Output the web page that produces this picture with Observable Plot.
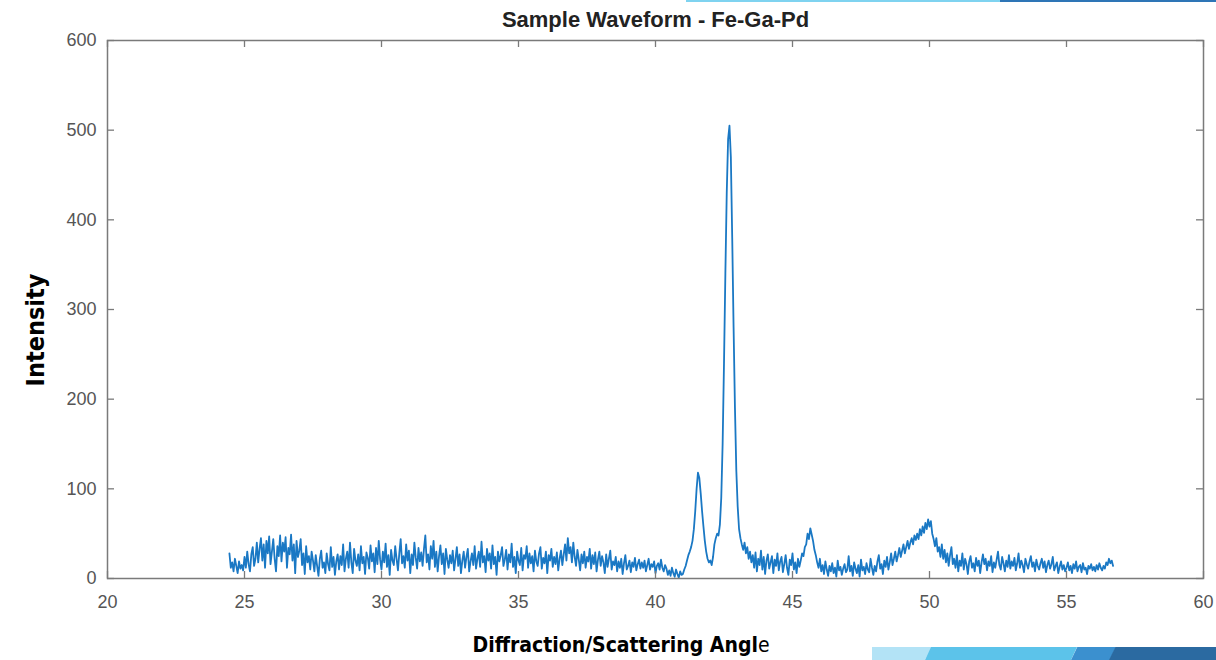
<!DOCTYPE html>
<html><head><meta charset="utf-8">
<script src="https://cdn.jsdelivr.net/npm/d3@7"></script>
<script src="https://cdn.jsdelivr.net/npm/@observablehq/plot@0.6"></script>
<style>
body{margin:0;background:#fff;}
#wrap{position:relative;width:1216px;height:660px;overflow:hidden;background:#fff;}
#wrap svg{position:absolute;left:0;top:0;}
.lab{position:absolute;font-family:"DejaVu Sans Condensed","DejaVu Sans",sans-serif;font-stretch:condensed;font-weight:bold;color:#000;white-space:nowrap;}
#ylab{left:35px;top:330px;font-size:25px;transform:translate(-50%,-50%) rotate(-90deg);}
#xlab{left:621px;top:645px;font-size:21px;transform:translate(-50%,-50%);}
#xlab span{font-weight:normal;}
.deco{position:absolute;}
</style></head><body>
<div id="wrap">
  <div class="deco" style="left:686px;top:0;width:314px;height:2px;background:#7fd3f0"></div>
  <div class="deco" style="left:1000px;top:0;width:216px;height:2px;background:#2e75b6"></div>
  <div class="deco" style="left:872px;top:647px;width:60px;height:13px;background:#b3e3f6;clip-path:polygon(0 0,100% 0,88% 100%,0 100%)"></div>
  <div class="deco" style="left:925px;top:647px;width:152px;height:13px;background:#5cc3ea;clip-path:polygon(4% 0,100% 0,96% 100%,0 100%)"></div>
  <div class="deco" style="left:1071px;top:647px;width:45px;height:13px;background:#3b90cf;clip-path:polygon(14% 0,100% 0,86% 100%,0 100%)"></div>
  <div class="deco" style="left:1109px;top:647px;width:107px;height:13px;background:#2b6aa1;clip-path:polygon(6% 0,100% 0,100% 100%,0 100%)"></div>
  <div id="ylab" class="lab">Intensity</div>
  <div id="xlab" class="lab">Diffraction/Scattering Angl<span>e</span></div>
</div>
<script>
// Sampled at 0.05° steps; each row starts at rowStarts[r]
const rowStarts = [24.45, 25.0, 25.5, 26.5, 27.5, 28.5, 29.5, 30.5, 31.5, 32.5, 33.5, 34.5, 35.5, 36.5, 37.5, 38.5, 39.5, 40.5,
  41.0, 43.0, 43.5, 44.5, 45.3, 45.9, 47.0, 48.0, 48.5, 49.5, 50.25, 51.0, 52.0, 53.0, 54.0, 55.0, 56.0];
const rowValues = [
  [28, 12, 18, 8, 22, 14, 6, 19, 11, 15, 9],
  [24, 12, 30, 16, 8, 27, 35, 14, 22, 40],
  [18, 33, 45, 20, 38, 12, 42, 28, 47, 16, 30, 44, 22, 8, 36, 25, 48, 19, 40, 30],
  [46, 12, 34, 27, 49, 20, 38, 6, 42, 24, 31, 44, 15, 28, 5, 36, 18, 25, 10, 30],
  [20, 8, 26, 14, 3, 22, 31, 12, 18, 6, 28, 16, 9, 35, 13, 24, 4, 19, 27, 10],
  [25, 15, 38, 8, 22, 30, 12, 40, 18, 6, 33, 20, 14, 27, 9, 36, 17, 24, 5, 29],
  [23, 11, 37, 19, 28, 7, 34, 16, 42, 21, 10, 30, 18, 39, 13, 26, 4, 32, 20, 15],
  [36, 22, 9, 28, 44, 17, 25, 12, 38, 20, 31, 6, 27, 15, 40, 23, 11, 34, 19, 29],
  [14, 33, 48, 18, 27, 10, 36, 22, 42, 13, 30, 8, 25, 37, 16, 28, 5, 33, 21, 12],
  [26, 17, 31, 9, 22, 35, 14, 27, 6, 20, 30, 12, 24, 33, 8, 19, 28, 15, 36, 11],
  [22, 30, 13, 41, 18, 25, 7, 33, 20, 28, 11, 37, 16, 24, 4, 30, 19, 26, 35, 14],
  [21, 32, 10, 27, 18, 39, 13, 24, 6, 30, 20, 15, 34, 9, 26, 22, 36, 12, 28, 17],
  [25, 8, 31, 19, 14, 28, 35, 11, 23, 17, 30, 6, 26, 20, 33, 13, 24, 16, 29, 9],
  [22, 31, 15, 27, 38, 20, 45, 28, 35, 18, 40, 24, 14, 32, 21, 9, 27, 17, 30, 12],
  [24, 19, 33, 11, 26, 16, 29, 8, 21, 30, 14, 25, 18, 6, 27, 13, 22, 31, 10, 19],
  [15, 24, 8, 19, 12, 22, 5, 17, 26, 10, 14, 20, 7, 18, 13, 23, 9, 16, 21, 11],
  [18, 12, 20, 8, 15, 22, 10, 16, 13, 19, 6, 14, 17, 10, 21, 12, 8, 15, 11, 4],
  [9, 3, 12, 6, 2, 10, 5, 1, 8, 4],
  [5, 10, 14, 20, 26, 30, 35, 42, 55, 75,
   100, 118, 112, 95, 75, 58, 42, 30, 22, 18,
   20, 15, 24, 38, 45, 50, 48, 60, 90, 150,
   240, 340, 430, 490, 505, 470, 380, 280, 190, 120],
  [80, 55, 45, 38, 32, 40, 28, 35, 22, 30],
  [18, 26, 12, 29, 8, 22, 15, 31, 10, 24, 5, 20, 27, 11, 18, 25, 6, 21, 14, 28],
  [9, 19, 24, 7, 16, 26, 12, 4, 21, 15, 28, 10, 18, 6, 22, 13],
  [20, 28, 25, 35, 38, 50, 44, 56, 49, 42, 32, 26],
  [18, 12, 22, 8, 15, 5, 19, 10, 3, 14, 8, 17, 6, 12, 2, 20, 9, 13, 4, 11, 16, 7],
  [10, 25, 8, 14, 3, 18, 11, 6, 15, 2, 21, 9, 13, 5, 17, 10, 7, 22, 12, 4],
  [14, 8, 19, 26, 11, 16, 5, 20, 13, 24],
  [10, 18, 28, 15, 22, 30, 19, 26, 34, 24, 31, 38, 28, 35, 42, 33, 40, 45, 38, 48],
  [43, 50, 44, 55, 48, 58, 51, 62, 55, 66, 58, 64, 50, 44, 36],
  [45, 30, 35, 24, 38, 22, 32, 18, 28, 14, 26, 35, 16, 22, 12],
  [26, 8, 20, 14, 28, 10, 22, 16, 5, 19, 25, 12, 17, 8, 23, 14, 20, 6, 18, 27],
  [16, 22, 9, 19, 14, 25, 7, 18, 12, 21, 30, 15, 10, 24, 17, 8, 20, 13, 26, 11],
  [19, 14, 23, 9, 17, 28, 12, 20, 15, 7, 22, 16, 11, 19, 25, 13, 18, 8, 21, 14],
  [10, 17, 22, 12, 19, 7, 15, 20, 11, 16, 24, 9, 14, 18, 6, 13, 19, 10, 15, 8],
  [12, 18, 9, 14, 6, 16, 11, 19, 8, 13, 15, 7, 17, 10, 12, 5, 14, 11, 16, 9],
  [13, 8, 15, 10, 17, 12, 9, 14, 11, 18, 15, 22, 17, 20, 14]
];
const sampleStep = 0.05;
const xTicks = [20, 25, 30, 35, 40, 45, 50, 55, 60];
const yTicks = [0, 100, 200, 300, 400, 500, 600];
const titleText = "Sample Waveform - Fe-Ga-Pd";

const data = rowStarts.flatMap((s, r) => rowValues[r].map((v, i) => ({angle: +(s + i * sampleStep).toFixed(2), intensity: v})));

const W = 1216, H = 660, mt = 40, mb = 82, ml = 107, mr = 13;
const pw = W - ml - mr, ph = H - mt - mb;
const axisGrey = "#7a7a7a";
const chart = Plot.plot({
  width: W, height: H,
  marginTop: mt, marginBottom: mb, marginLeft: ml, marginRight: mr,
  style: {fontFamily: "'Liberation Sans', Arial, sans-serif", background: "transparent", overflow: "visible"},
  x: {domain: [20, 60]},
  y: {domain: [0, 600]},
  marks: [
    Plot.line(data, {x: "angle", y: "intensity", stroke: "#1a78c4", strokeWidth: 1.8, strokeLinejoin: "round"}),
    Plot.frame({stroke: axisGrey, strokeWidth: 1.5}),
    Plot.tickX(xTicks, {x: d => d, insetTop: ph - 7, stroke: axisGrey, strokeWidth: 1.3}),
    Plot.tickX(xTicks, {x: d => d, insetBottom: ph - 7, stroke: axisGrey, strokeWidth: 1.3}),
    Plot.tickY(yTicks, {y: d => d, insetRight: pw - 7, stroke: axisGrey, strokeWidth: 1.3}),
    Plot.tickY(yTicks, {y: d => d, insetLeft: pw - 7, stroke: axisGrey, strokeWidth: 1.3}),
    Plot.axisX({ticks: xTicks, tickSize: 0, tickPadding: 17, fontSize: 18, color: "#555", label: null}),
    Plot.axisY({ticks: yTicks, tickSize: 0, tickPadding: 11, fontSize: 18, color: "#555", label: null}),
    Plot.text([titleText], {frameAnchor: "top", lineAnchor: "middle", dy: -21, fontSize: 22, fontWeight: "bold", fill: "#222"})
  ]
});
document.getElementById("wrap").prepend(chart);
</script>
</body></html>
